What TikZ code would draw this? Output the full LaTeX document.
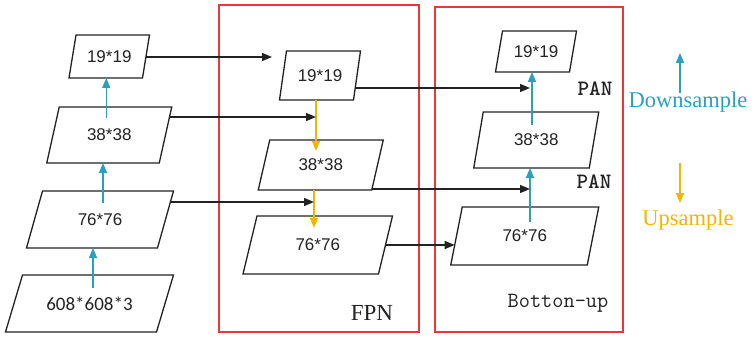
\documentclass[tikz,border=0pt]{standalone}
\usepackage{fontspec}
\setmainfont{Liberation Serif}
\newfontfamily\boxfont{Liberation Sans}
\newfontfamily\calfont{Carlito}
\usetikzlibrary{arrows.meta,calc}
\definecolor{cyanA}{HTML}{2A9FC0}
\definecolor{yelA}{HTML}{F5B400}
\definecolor{redA}{HTML}{E8383D}
\definecolor{ink}{HTML}{222222}
\tikzset{
  boxtext/.style={inner sep=0pt, outer sep=0pt, text=ink, font=\boxfont\fontsize{17}{20}\selectfont},
  boxline/.style={draw=ink, line width=1.3pt, line join=miter},
  blk/.style={draw=ink, line width=1.4pt, -{Triangle[length=10pt,width=8pt]}},
  upar/.style={draw=cyanA, line width=1.4pt, -{Triangle[length=10pt,width=8pt]}},
  dnar/.style={draw=yelA, line width=1.4pt, -{Triangle[length=10pt,width=8pt]}},
  redbox/.style={draw=redA, line width=1.3pt},
  monolab/.style={font=\ttfamily\fontsize{21.7}{24}\selectfont, text=ink, inner sep=0pt},
  panlab/.style={font=\ttfamily\bfseries\fontsize{22}{24}\selectfont, text=ink, inner sep=0pt},
}
% name, cx, cy, w, h, half-skew, text
\newcommand{\pbox}[7]{%
  \node[boxtext, minimum width=#4pt, minimum height=#5pt] (#1) at (#2,#3) {#7};
  \draw[boxline] ([xshift=#6pt]#1.north west) -- ([xshift=#6pt]#1.north east)
     -- ([xshift=-#6pt]#1.south east) -- ([xshift=-#6pt]#1.south west) -- cycle;
}
\begin{document}
\begin{tikzpicture}[x=1pt,y=-1pt]
\useasboundingbox (0,0) rectangle (753,337);
% red frames
\draw[redbox] (219,5) rectangle (419,332);
\draw[redbox] (435,7) rectangle (623,332);
% left column
\pbox{L1}{109.25}{56.5}{73.5}{43}{3.5}{19*19}
\pbox{L2}{109.25}{135}{112.5}{56}{6.25}{38*38}
\pbox{L3}{100}{219.5}{131}{57}{8}{76*76}
\pbox{L4}{89.5}{303.5}{151}{57}{8.5}{\calfont\fontsize{19}{22}\selectfont 608*608*3}
% FPN column
\pbox{F1}{320}{75.5}{74}{49}{3.5}{19*19}
\pbox{F2}{320.75}{165}{113.5}{50}{5.75}{38*38}
\pbox{F3}{317.75}{245}{135.5}{58}{7}{76*76}
% bottom-up column
\pbox{R1}{536}{51.5}{74}{41}{3.5}{19*19}
\pbox{R2}{536.25}{140}{115.5}{56}{4.75}{38*38}
\pbox{R3}{524.75}{236}{136.5}{58}{5.75}{76*76}
% cyan up arrows, left
\draw[upar] ([xshift=3.5pt,yshift=-13pt]L4.north) -- ([xshift=3.5pt]L4.north |- L3.south);
\draw[upar] ([xshift=3pt,yshift=-12pt]L3.north) -- ([xshift=3pt]L3.north |- L2.south);
\draw[upar] ([xshift=-3pt,yshift=-11pt]L2.north) -- ([xshift=-3pt]L2.north |- L1.south);
% yellow down arrows, FPN
\draw[dnar] ([xshift=-4pt]F1.south) -- ([xshift=-4pt,yshift=-11pt]F1.south |- F2.north);
\draw[dnar] ([xshift=-6.75pt]F2.south) -- ([xshift=-6.75pt,yshift=-12pt]F2.south |- F3.north);
% cyan up arrows, right
\draw[upar] ([xshift=5.25pt,yshift=-15pt]R3.north) -- ([xshift=5.25pt]R3.north |- R2.south);
\draw[upar] ([xshift=-4.25pt,yshift=-13pt]R2.north) -- ([xshift=-4.25pt]R2.north |- R1.south);
% black lateral arrows
\coordinate (a1s) at ([yshift=-0.5pt]L1.east);
\coordinate (a2s) at ([xshift=4pt,yshift=18pt]L2.east);
\coordinate (a3s) at ([xshift=5pt,yshift=17.5pt]L3.east);
\coordinate (a4s) at ([xshift=-1.8pt,yshift=-12.5pt]F1.east);
\coordinate (a5s) at ([xshift=-5.75pt,yshift=1pt]F2.south east);
\coordinate (a6s) at (F3.east);
\draw[blk] (a1s) -- ([xshift=-11pt]F1.west |- a1s);
\draw[blk] (a2s) -- ([xshift=-4pt]F1.south |- a2s);
\draw[blk] (a3s) -- ([xshift=-6.75pt]F2.south |- a3s);
\draw[blk] (a4s) -- ([xshift=-6pt]R1.south |- a4s);
\draw[blk] (a5s) -- ([xshift=-6pt]R1.south |- a5s);
\draw[blk] (a6s) -- ([xshift=-1.8pt]R3.west |- a6s);
% labels
\node[font=\fontsize{23}{26}\selectfont, text=ink, inner sep=0pt] (fpn) at (372,313) {FPN};
\node[panlab] (pan1) at (595,89) {PAN};
\node[panlab] (pan2) at (594,182) {PAN};
\node[monolab] (bu) at (558,303) {Botton-up};
% legend
\node[font=\fontsize{22.5}{25}\selectfont, text=cyanA, inner sep=0pt] (ds) at (688,102) {Downsample};
\node[font=\fontsize{22.5}{25}\selectfont, text=yelA, inner sep=0pt] (us) at (688,220) {Upsample};
\coordinate (dsA) at (680,93);
\coordinate (dsB) at (680,53);
\coordinate (usA) at (680,163);
\coordinate (usB) at (680,203);
\draw[upar] (dsA) -- (dsB);
\draw[dnar] (usA) -- (usB);
\end{tikzpicture}
\end{document}
